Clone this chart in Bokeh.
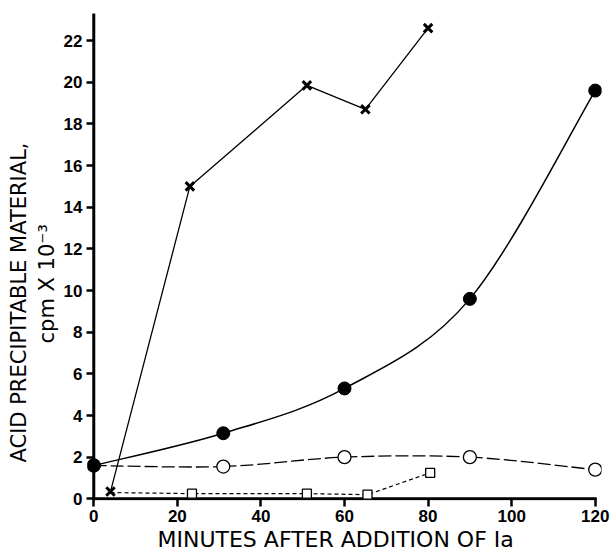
from bokeh.plotting import figure
from bokeh.models import Range1d, FixedTicker, Title
from bokeh.embed import file_html
from bokeh.resources import INLINE

# Data
cross_x = [4, 23, 51, 65, 80]
cross_y = [0.35, 15.0, 19.85, 18.7, 22.6]

filled_x = [0, 31, 60, 90, 120]
filled_y = [1.6, 3.15, 5.3, 9.6, 19.6]

open_x = [0, 31, 60, 90, 120]
open_y = [1.6, 1.55, 2.0, 2.0, 1.4]

square_line_x = [4, 23.5, 51, 65.5, 80.5]
square_line_y = [0.3, 0.25, 0.25, 0.2, 1.25]
square_x = [23.5, 51, 65.5, 80.5]
square_y = [0.25, 0.25, 0.2, 1.25]

x_ticks = [0, 20, 40, 60, 80, 100, 120]
y_ticks = [0, 2, 4, 6, 8, 10, 12, 14, 16, 18, 20, 22]
y_axis_top = 23.3

y_label_1 = "ACID PRECIPITABLE MATERIAL,"
y_label_2 = "cpm X 10\u207b\u00b3"
x_label = "MINUTES AFTER ADDITION OF Ia"


def smooth(xs, ys):
    """Catmull-Rom segments expressed as cubic bezier control points."""
    n = len(xs)
    px = [xs[0]] + list(xs) + [xs[-1]]
    py = [ys[0]] + list(ys) + [ys[-1]]
    out = dict(x0=[], y0=[], x1=[], y1=[], cx0=[], cy0=[], cx1=[], cy1=[])
    for i in range(1, n):
        out["x0"].append(px[i]); out["y0"].append(py[i])
        out["x1"].append(px[i + 1]); out["y1"].append(py[i + 1])
        out["cx0"].append(px[i] + (px[i + 1] - px[i - 1]) / 6)
        out["cy0"].append(py[i] + (py[i + 1] - py[i - 1]) / 6)
        out["cx1"].append(px[i + 1] - (px[i + 2] - px[i]) / 6)
        out["cy1"].append(py[i + 1] - (py[i + 2] - py[i]) / 6)
    return out


# ranges padded slightly so edge markers are not clipped by the frame
p = figure(width=610, height=552, output_backend="svg", toolbar_location=None,
           x_range=Range1d(x_ticks[0] - 1.5, x_ticks[-1] + 1.5),
           y_range=Range1d(-0.08, y_axis_top),
           min_border_left=87, min_border_right=9, min_border_top=13, min_border_bottom=52)
p.outline_line_color = None
p.grid.visible = False
p.background_fill_color = "white"

for ax in (p.xaxis[0], p.yaxis[0]):
    ax.axis_line_color = None
    ax.major_tick_line_width = 2.5
    ax.minor_tick_line_color = None
    ax.major_label_text_font = "Liberation Sans"
    ax.major_label_text_font_style = "bold"
    ax.major_label_text_font_size = "17px"
    ax.major_label_text_color = "black"

p.xaxis[0].ticker = FixedTicker(ticks=x_ticks)
p.yaxis[0].ticker = FixedTicker(ticks=y_ticks)
p.xaxis[0].major_tick_in = 2
p.xaxis[0].major_tick_out = 6
p.xaxis[0].major_label_standoff = 3
p.yaxis[0].major_tick_in = 6
p.yaxis[0].major_tick_out = 1
p.yaxis[0].major_label_standoff = 4

# axis lines at x = 0 and y = 0
p.segment(x0=[x_ticks[0], x_ticks[0]], y0=[y_ticks[0], y_ticks[0]],
          x1=[x_ticks[-1], x_ticks[0]], y1=[y_ticks[0], y_axis_top],
          line_color="black", line_width=3, line_cap="square")

# axis titles as side-panel titles
p.add_layout(Title(text=y_label_2, align="left", offset=157, standoff=4,
                   text_font="DejaVu Sans", text_font_style="normal",
                   text_font_size="21px", text_color="black"), "left")
p.add_layout(Title(text=y_label_1, align="left", offset=38, standoff=0,
                   text_font="DejaVu Sans", text_font_style="normal",
                   text_font_size="21px", text_color="black"), "left")
p.add_layout(Title(text=x_label, align="left", offset=70, standoff=0,
                   text_font="DejaVu Sans", text_font_style="normal",
                   text_font_size="22px", text_color="black"), "below")

# crosses series
p.line(cross_x, cross_y, line_color="black", line_width=1.3)
p.scatter(cross_x, cross_y, marker="x", size=12, line_color="black", line_width=3)

# squares series
p.line(square_line_x, square_line_y, line_color="black", line_width=1.2, line_dash="4 3")
p.scatter(square_x, square_y, marker="square", size=9, line_color="black",
          fill_color="white", line_width=1.3)

# open circles series (smooth dashed curve)
so = smooth(open_x, open_y)
p.bezier(**so, line_color="black", line_width=1.3, line_dash="13 4")
p.scatter(open_x, open_y, marker="circle", size=13, line_color="black",
          fill_color="white", line_width=1.3)

# filled circles series (smooth curve)
sf = smooth(filled_x, filled_y)
p.bezier(**sf, line_color="black", line_width=1.5)
p.scatter(filled_x, filled_y, marker="circle", size=13, line_color="black",
          fill_color="black")

open("out.html", "w").write(file_html(p, INLINE))
